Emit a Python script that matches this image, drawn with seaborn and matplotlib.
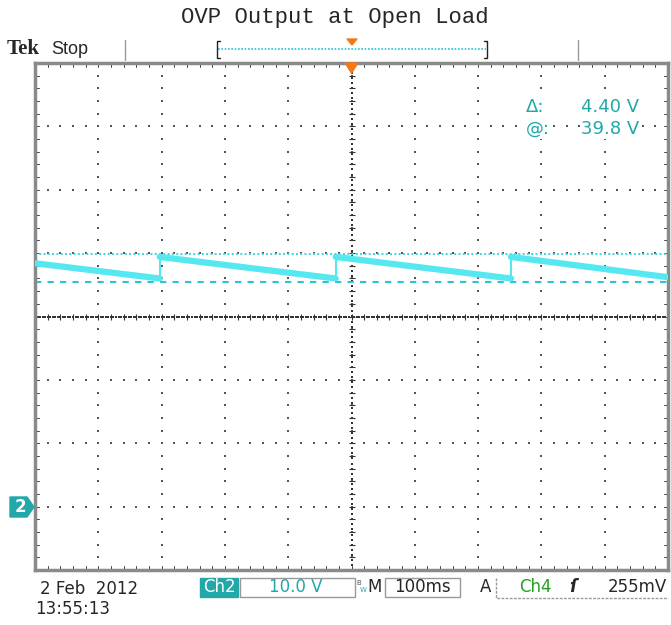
import matplotlib
matplotlib.use("Agg")
import matplotlib.pyplot as plt
from matplotlib.patches import Rectangle, Polygon
import numpy as np
import pandas as pd
import seaborn as sns

# scope settings (100 ms/div, 10 V/div, ch2 ground 3 div below centre)
t_min, t_max = 0, 1000
v_min, v_max = -10, 70

# Ch2 sawtooth trace (time ms, volts)
trace_t = [0, 197, 197, 475, 475, 752, 752, 1000]
trace_v = [38.4, 36.0, 39.4, 36.0, 39.4, 36.0, 39.4, 36.2]
trace_seg = [0, 0, 1, 1, 2, 2, 3, 3]

cursor_at = 39.8
cursor_delta = 4.40

TEAL = "#22a8a8"
CYAN = "#55e8f0"
ORANGE = "#f07a1a"

sns.set_theme(style="white")

fig = plt.figure(figsize=(6.71, 6.25), dpi=100)
ax = fig.add_axes([35 / 671, 55 / 625, 633 / 671, 507 / 625])
ax.set_xlim(t_min, t_max)
ax.set_ylim(v_min, v_max)
ax.set_xticks([])
ax.set_yticks([])
for s in ax.spines.values():
    s.set_color("#8a8a8a")
    s.set_linewidth(2.5)

# graticule: dotted grid lines, 5 minor steps per division
xdiv = np.arange(t_min, t_max + 1, 100)
ydiv = np.arange(v_min, v_max + 1, 10)
xs = np.arange(t_min, t_max + 0.1, 20)
ys = np.arange(v_min, v_max + 0.1, 2)
gx, gy = [], []
for y in ydiv[1:-1]:
    gx += list(xs); gy += [y] * len(xs)
for x in xdiv[1:-1]:
    gx += [x] * len(ys); gy += list(ys)
ax.scatter(gx, gy, s=2.5, color="#555555", marker="s", linewidths=0, zorder=1)

# centre crosshair ticks
xc, yc = (t_min + t_max) / 2, (v_min + v_max) / 2
fine_x = np.arange(t_min, t_max + 0.1, 4)
fine_y = np.arange(v_min, v_max + 0.1, 0.8)
ax.scatter(fine_x, [yc] * len(fine_x), s=2, color="#333333", marker="s", linewidths=0, zorder=1)
ax.scatter([xc] * len(fine_y), fine_y, s=2, color="#333333", marker="s", linewidths=0, zorder=1)
ax.scatter(xs, [yc] * len(xs), s=14, color="#333333", marker="|", linewidths=0.8, zorder=1)
ax.scatter([xc] * len(ys), ys, s=14, color="#333333", marker="_", linewidths=0.8, zorder=1)

# border ticks
for x in xs:
    ax.plot([x, x], [v_max, v_max - 0.6], color="#444444", lw=0.7)
    ax.plot([x, x], [v_min, v_min + 0.6], color="#444444", lw=0.7)
for y in ys:
    ax.plot([t_min, t_min + 6], [y, y], color="#444444", lw=0.7)
    ax.plot([t_max, t_max - 6], [y, y], color="#444444", lw=0.7)

# cursors
ax.axhline(cursor_at, color="#3cd6e0", lw=1.4, ls=(0, (1, 1.2)), zorder=2)
ax.axhline(cursor_at - cursor_delta, color="#2cc4cf", lw=1.5, ls=(0, (3, 3)), zorder=2)

# trace
df = pd.DataFrame({"t": trace_t, "v": trace_v, "seg": trace_seg})
sns.lineplot(data=df, x="t", y="v", units="seg", estimator=None, sort=False,
             color=CYAN, lw=4.5, ax=ax, zorder=3)
# vertical edges of the sawtooth
for t, lo, hi in zip(trace_t[1::2][:3], trace_v[1::2][:3], trace_v[2::2]):
    ax.plot([t, t], [lo, hi], color=CYAN, lw=1.5, zorder=3)
ax.set_xlabel("")
ax.set_ylabel("")

# cursor readout
box = dict(facecolor="white", edgecolor="none", pad=1)
ax.text(0.775, 0.903, "\u0394:", transform=ax.transAxes, color=TEAL, fontsize=13, bbox=box)
ax.text(0.955, 0.903, f"{cursor_delta:.2f} V", transform=ax.transAxes, color=TEAL,
        fontsize=13, ha="right", bbox=box)
ax.text(0.775, 0.86, "@:", transform=ax.transAxes, color=TEAL, fontsize=13, bbox=box)
ax.text(0.955, 0.86, f"{cursor_at:.1f} V", transform=ax.transAxes, color=TEAL,
        fontsize=13, ha="right", bbox=box)

# trigger position marker at top of graticule
ax.add_patch(Polygon([[xc - 10, v_max], [xc + 10, v_max], [xc, v_max - 1.6]],
                     closed=True, color=ORANGE, clip_on=False, zorder=5))

# title and header bar (figure pixel coords)
def fx(px):
    return px / 671

def fy(py):
    return 1 - py / 625

fig.text(fx(335), fy(17), "OVP Output at Open Load", ha="center", va="center",
         fontsize=16, family="Liberation Mono")
fig.text(fx(7), fy(49), "Tek", ha="left", va="center", fontsize=15,
         family="Liberation Serif", weight="bold")
fig.text(fx(51), fy(49), "Stop", ha="left", va="center", fontsize=13, family="Liberation Sans")
for px in (125, 578):
    fig.add_artist(plt.Line2D([fx(px), fx(px)], [fy(40), fy(60)], color="#999999", lw=1))
fig.add_artist(plt.Line2D([fx(218), fx(486)], [fy(49), fy(49)], color="#2cc4cf", lw=1.2, ls=(0, (1, 1))))
for px, d in ((217, 1), (487, -1)):
    fig.add_artist(plt.Line2D([fx(px + 3 * d), fx(px), fx(px), fx(px + 3 * d)],
                              [fy(41), fy(41), fy(58), fy(58)], color="#222222", lw=1))
fig.add_artist(Polygon([[fx(347), fy(39)], [fx(357), fy(39)], [fx(352), fy(45)]],
                       closed=True, color=ORANGE, transform=fig.transFigure))

# ch2 ground marker
fig.add_artist(Polygon([[fx(10), fy(497)], [fx(27), fy(497)], [fx(34), fy(507)],
                        [fx(27), fy(517)], [fx(10), fy(517)]],
                       closed=True, color=TEAL, transform=fig.transFigure))
fig.text(fx(20), fy(507), "2", ha="center", va="center", color="white", fontsize=12, weight="bold")

# bottom status bar
fig.text(fx(40), fy(589), "2 Feb  2012", ha="left", va="center", fontsize=12)
fig.text(fx(35), fy(609), "13:55:13", ha="left", va="center", fontsize=12)
fig.add_artist(Rectangle((fx(200), fy(597)), fx(38), 19 / 625, color=TEAL, transform=fig.transFigure))
fig.text(fx(219), fy(587), "Ch2", ha="center", va="center", color="white", fontsize=12)
fig.add_artist(Rectangle((fx(240), fy(597)), fx(115), 19 / 625, fill=False, ec="#999999",
                         lw=1, transform=fig.transFigure))
fig.text(fx(296), fy(587), "10.0 V", ha="center", va="center", color=TEAL, fontsize=12)
fig.text(fx(359), fy(583), "B", ha="center", va="center", color="#555555", fontsize=5)
fig.text(fx(363), fy(590), "W", ha="center", va="center", color=TEAL, fontsize=5)
fig.text(fx(375), fy(587), "M", ha="center", va="center", fontsize=12)
fig.add_artist(Rectangle((fx(385), fy(597)), fx(75), 19 / 625, fill=False, ec="#999999",
                         lw=1, transform=fig.transFigure))
fig.text(fx(422), fy(587), "100ms", ha="center", va="center", fontsize=12)
fig.text(fx(486), fy(587), "A", ha="center", va="center", fontsize=12)
fig.add_artist(plt.Line2D([fx(496), fx(496), fx(668)], [fy(578), fy(598), fy(598)],
                          color="#999999", lw=1, ls=(0, (2, 1))))
fig.text(fx(535), fy(587), "Ch4", ha="center", va="center", color="#22a022", fontsize=12)
fig.text(fx(573), fy(587), "\u017F", ha="center", va="center", fontsize=12, style="italic",
         weight="bold")
fig.text(fx(667), fy(587), "255mV", ha="right", va="center", fontsize=12)

fig.savefig("out.png", dpi=100)
